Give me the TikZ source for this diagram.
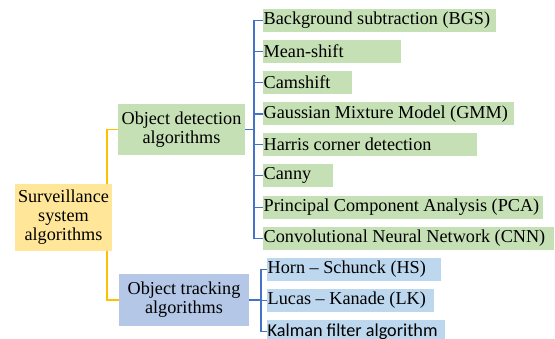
\documentclass[tikz,border=0pt]{standalone}
\usepackage{fontspec}
\setmainfont{Liberation Serif}
\newfontfamily\calibri{Carlito}
\usepackage{tikz}
\usetikzlibrary{positioning,calc}
\definecolor{cgreen}{HTML}{C5E0B4}
\definecolor{cblue}{HTML}{BDD7EE}
\definecolor{cbluemid}{HTML}{B4C7E7}
\definecolor{cyell}{HTML}{FFE699}
\definecolor{cyline}{HTML}{FFC000}
\definecolor{cbline}{HTML}{4472C4}
\tikzset{
  leafg/.style={fill=cgreen,anchor=west,inner xsep=0.5pt,inner ysep=0pt,
    minimum height=23pt,
    execute at begin node={\hbox to #1\bgroup},
    execute at end node={\hss\egroup}},
  leafb/.style={leafg=#1,fill=cblue},
  midbox/.style={inner sep=0pt,align=center},
  yline/.style={cyline,line width=1.8pt},
  bline/.style={cbline,line width=1.8pt}
}

\begin{document}
\begin{tikzpicture}[x=1pt,y=-1pt,font=\fontsize{18.2}{19}\selectfont]
    \useasboundingbox (0,0) rectangle (555,339);
    \clip (0,0) rectangle (555,339);
    % root and second level
    \node[midbox,fill=cyell,minimum width=97pt,minimum height=67pt] (root) at (63.5,217.5) {Surveillance\\system\\algorithms};
    \node[midbox,fill=cgreen,minimum width=127pt,minimum height=51pt] (det) at (181.5,129.5) {Object detection\\algorithms};
    \node[midbox,fill=cbluemid,minimum width=130pt,minimum height=52pt] (trk) at (184,300) {Object tracking\\algorithms};
    % detection methods
    \node[leafg=232pt] (d1) at (263,20.5)  {Background subtraction (BGS)};
    \node[leafg=137pt] (d2) at (263,51.5)  {Mean-shift};
    \node[leafg=88pt]  (d3) at (263,82.5)  {Camshift};
    \node[leafg=250pt] (d4) at (263,114)   {Gaussian Mixture Model (GMM)};
    \node[leafg=213pt] (d5) at (263,144.5) {Harris corner detection};
    \node[leafg=69pt]  (d6) at (263,175.5) {Canny};
    \node[leafg=279pt] (d7) at (263,207.5) {Principal Component Analysis (PCA)};
    \node[leafg=290pt] (d8) at (263,238.5) {Convolutional Neural Network (CNN)};
    % tracking methods
    \node[leafb=173pt] (t1) at (267,269.5) {Horn -- Schunck (HS)};
    \node[leafb=166pt] (t2) at (267,300.5) {Lucas -- Kanade (LK)};
    \node[leafb=177pt] (t3) at (267,331.5) {\calibri Kalman filter algorithm};
    % yellow links from root
    \draw[yline] ($(root.north east)+(-5,0)$) |- (det.west);
    \draw[yline] ($(root.south east)+(-5,0)$) |- (trk.west);
    % blue trees
    \draw[bline] (det.east) -- ++(9,0) coordinate (dbus);
    \foreach \n in {d1,d2,d3,d4,d5,d6,d7,d8}
      \draw[bline] (dbus) |- (\n.west);
    \draw[bline] (trk.east) -- ++(12,0) coordinate (tbus);
    \foreach \n in {t1,t2,t3}
      \draw[bline] (tbus) |- (\n.west);
  \end{tikzpicture}
\end{document}
